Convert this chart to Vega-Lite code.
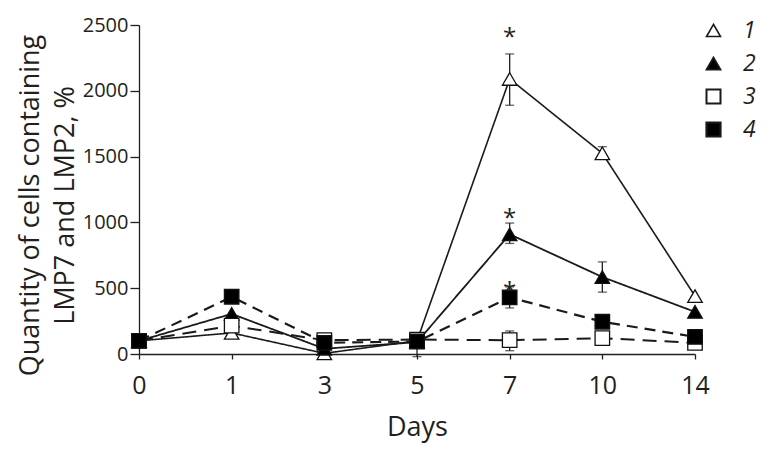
{
  "$schema": "https://vega.github.io/schema/vega-lite/v6.json",
  "width": 556,
  "height": 329,
  "autosize": {"type": "none"},
  "padding": {"left": 139, "top": 25, "right": 88, "bottom": 95},
  "background": "white",
  "config": {
    "view": {"stroke": null},
    "font": "Open Sans",
    "axis": {"domainColor": "#231f20", "tickColor": "#231f20", "labelColor": "#231f20", "titleColor": "#231f20", "grid": false, "labelFont": "Open Sans", "titleFont": "Open Sans", "titleFontWeight": "normal", "domainWidth": 1.3, "tickWidth": 1.3},
    "legend": {
      "title": null,
      "orient": "none",
      "legendX": 563,
      "legendY": -6,
      "padding": 0,
      "symbolSize": 196,
      "rowPadding": 9,
      "labelOffset": 18,
      "labelFont": "Open Sans",
      "labelFontStyle": "italic",
      "labelFontSize": 23,
      "labelColor": "#231f20"
    }
  },
  "datasets": {
    "series": [
      {"day": "0", "series": "1", "value": 100},
      {"day": "1", "series": "1", "value": 160},
      {"day": "3", "series": "1", "value": 5},
      {"day": "5", "series": "1", "value": 100},
      {"day": "7", "series": "1", "value": 2090},
      {"day": "10", "series": "1", "value": 1525},
      {"day": "14", "series": "1", "value": 440},
      {"day": "0", "series": "2", "value": 100},
      {"day": "1", "series": "2", "value": 305},
      {"day": "3", "series": "2", "value": 40},
      {"day": "5", "series": "2", "value": 90},
      {"day": "7", "series": "2", "value": 910},
      {"day": "10", "series": "2", "value": 585},
      {"day": "14", "series": "2", "value": 320},
      {"day": "0", "series": "3", "value": 100},
      {"day": "1", "series": "3", "value": 215},
      {"day": "3", "series": "3", "value": 105},
      {"day": "5", "series": "3", "value": 110},
      {"day": "7", "series": "3", "value": 105},
      {"day": "10", "series": "3", "value": 120},
      {"day": "14", "series": "3", "value": 85},
      {"day": "0", "series": "4", "value": 100},
      {"day": "1", "series": "4", "value": 435},
      {"day": "3", "series": "4", "value": 85},
      {"day": "5", "series": "4", "value": 95},
      {"day": "7", "series": "4", "value": 430},
      {"day": "10", "series": "4", "value": 245},
      {"day": "14", "series": "4", "value": 130}
    ],
    "errors": [
      {"day": "7", "series": "1", "lo": 1890, "hi": 2280},
      {"day": "10", "series": "1", "lo": 1480, "hi": 1575},
      {"day": "7", "series": "2", "lo": 840, "hi": 995},
      {"day": "10", "series": "2", "lo": 470, "hi": 700},
      {"day": "7", "series": "4", "lo": 350, "hi": 510},
      {"day": "7", "series": "3", "lo": 25, "hi": 175},
      {"day": "5", "series": "2", "lo": -20, "hi": 150}
    ],
    "stars": [
      {"day": "7", "value": 2350, "label": "*"},
      {"day": "7", "value": 970, "label": "*"},
      {"day": "7", "value": 415, "label": "*"}
    ]
  },
  "encoding": {
    "x": {
      "field": "day", "type": "ordinal",
      "sort": ["0", "1", "3", "5", "7", "10", "14"],
      "scale": {"type": "point", "padding": 0, "domain": ["0", "1", "3", "5", "7", "10", "14"]},
      "axis": {"title": "Days", "labelAngle": 0, "labelFontSize": 25, "tickSize": 5, "labelPadding": 14, "titleFontSize": 27, "titlePadding": 16}
    }
  },
  "layer": [
    {
      "data": {"name": "errors"},
      "mark": {"type": "rule", "color": "#231f20", "strokeWidth": 1.3},
      "encoding": {
        "y": {
          "field": "lo", "type": "quantitative",
          "scale": {"domain": [0, 2500], "nice": false},
          "axis": {"values": [0, 500, 1000, 1500, 2000, 2500], "format": "d", "labelFontSize": 20, "tickSize": 9, "labelPadding": 2,
                   "title": ["Quantity of cells containing", "LMP7 and LMP2, %"], "titleFontSize": 27, "titleLineHeight": 35,
                   "titleBaseline": "alphabetic", "titleAlign": "center", "titleAngle": -90, "titleX": -101, "titleY": 180}
        },
        "y2": {"field": "hi"}
      }
    },
    {
      "data": {"name": "errors"},
      "mark": {"type": "tick", "color": "#231f20", "size": 9, "thickness": 1.3, "orient": "horizontal"},
      "encoding": {"y": {"field": "hi", "type": "quantitative"}}
    },
    {
      "data": {"name": "errors"},
      "mark": {"type": "tick", "color": "#231f20", "size": 9, "thickness": 1.3, "orient": "horizontal"},
      "encoding": {"y": {"field": "lo", "type": "quantitative"}}
    },
    {
      "data": {"name": "series"},
      "mark": {"type": "line", "color": "#1a1a1a"},
      "encoding": {
        "y": {"field": "value", "type": "quantitative"},
        "detail": {"field": "series"},
        "strokeDash": {"field": "series", "type": "nominal", "scale": {"domain": ["3", "4", "1", "2"], "range": [[14, 8], [11, 7], [1, 0], [1, 0]]}, "legend": null},
        "strokeWidth": {"field": "series", "type": "nominal", "scale": {"domain": ["1", "2", "3", "4"], "range": [1.6, 2.2, 2.1, 2.7]}, "legend": {"title": null}}
      }
    },
    {
      "data": {"name": "series"},
      "mark": {"type": "point", "stroke": "#111111", "strokeWidth": 1.3, "size": 210, "opacity": 1},
      "encoding": {
        "y": {"field": "value", "type": "quantitative"},
        "shape": {"field": "series", "type": "nominal", "scale": {"domain": ["1", "2", "3", "4"], "range": ["triangle-up", "triangle-up", "square", "square"]}, "legend": {"title": null}},
        "fill": {"field": "series", "type": "nominal", "scale": {"domain": ["1", "2", "3", "4"], "range": ["white", "black", "white", "black"]}, "legend": {"title": null}}
      }
    },
    {
      "data": {"name": "stars"},
      "mark": {"type": "text", "fontSize": 24, "color": "#231f20", "baseline": "alphabetic", "font": "Open Sans"},
      "encoding": {
        "y": {"field": "value", "type": "quantitative"},
        "text": {"field": "label"}
      }
    }
  ]
}
